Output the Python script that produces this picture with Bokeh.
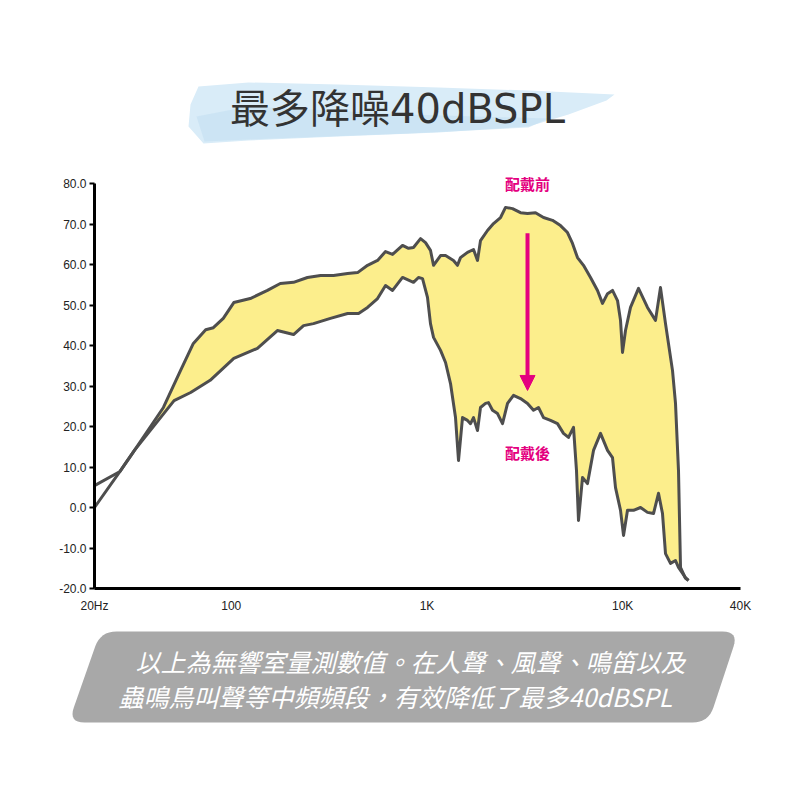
from bokeh.plotting import figure
from bokeh.models import (Range1d, FixedTicker, NumeralTickFormatter, Arrow, NormalHead, Label,
                          LinearScale)
from bokeh.core.properties import value
from bokeh.embed import file_html
from bokeh.resources import INLINE
import math

# ---------------- data ----------------
title_text = "最多降噪40dBSPL"
caption_lines = ["以上為無響室量測數值。在人聲、風聲、鳴笛以及",
                 "蟲鳴鳥叫聲等中頻頻段，有效降低了最多40dBSPL"]
label_before = "配戴前"
label_after = "配戴後"

x_ticks = [20, 100, 1000, 10000, 40000]
x_tick_labels = ["20Hz", "100", "1K", "10K", "40K"]
y_ticks = [-20, -10, 0, 10, 20, 30, 40, 50, 60, 70, 80]

# before wearing (upper curve)
before_freq = [20, 27, 32, 45, 55, 64, 74, 81, 91, 103, 125, 153, 178, 208, 245, 286, 333, 393, 442,
               497, 559, 614, 667, 750, 805, 853, 927, 983, 1042, 1080, 1173, 1244, 1366, 1432, 1483,
               1611, 1729, 1812, 1877, 2038, 2188, 2376, 2520, 2735, 3006, 3264, 3585, 3940, 4378,
               4811, 5224, 5541, 5876, 6306, 6849, 7436, 7888, 8367, 8872, 9410, 9749, 9981, 10338,
               10965, 12048, 13390, 14715, 15605, 16552, 17975, 18618, 19286, 19748, 20940, 21700]
before_db = [5.4, 8.9, 14.1, 24.7, 33.8, 40.5, 43.9, 44.4, 46.7, 50.6, 51.6, 53.6, 55.3, 55.6, 56.8,
             57.3, 57.3, 57.8, 58.0, 59.8, 61.0, 63.2, 62.5, 64.7, 64.0, 64.2, 66.4, 65.4, 63.5, 59.8,
             62.2, 62.2, 61.0, 59.8, 61.7, 63.0, 63.7, 61.0, 65.9, 68.4, 70.1, 71.6, 74.1, 73.8, 72.8,
             72.6, 72.8, 71.6, 70.9, 69.6, 67.9, 65.2, 61.7, 59.8, 56.8, 53.6, 50.4, 52.8, 53.6, 51.1,
             46.2, 38.3, 43.7, 49.4, 54.1, 49.4, 46.2, 54.3, 45.4, 33.8, 25.7, 9.1, -14.8, -17.5, -18.0]

# after wearing (lower curve)
after_freq = [20, 27, 32, 51, 62, 78, 103, 136, 172, 208, 234, 263, 321, 393, 447, 497, 559, 614, 667,
              750, 853, 905, 949, 1006, 1042, 1080, 1173, 1244, 1319, 1399, 1449, 1519, 1611, 1669,
              1729, 1812, 1877, 1991, 2062, 2162, 2293, 2432, 2580, 2768, 3006, 3264, 3502, 3714,
              3940, 4278, 4643, 4984, 5286, 5607, 5808, 5946, 6233, 6610, 7095, 7704, 8367, 8872,
              9192, 9749, 10100, 10584, 11360, 12336, 13390, 14372, 15241, 15977, 16552, 17556,
              18618, 19286, 20940, 21700]
after_db = [0.0, 8.9, 14.1, 26.4, 28.4, 31.4, 36.8, 39.3, 43.7, 42.7, 44.9, 45.4, 46.7, 47.9, 47.9,
            49.4, 51.6, 54.8, 53.6, 56.8, 55.6, 56.8, 56.5, 51.9, 45.4, 42.0, 38.8, 35.8, 30.6, 22.2,
            11.6, 22.2, 21.5, 20.7, 22.2, 19.0, 24.7, 25.7, 25.9, 24.0, 23.2, 20.7, 25.7, 27.7, 26.9,
            25.7, 24.0, 24.7, 22.2, 21.5, 20.7, 18.3, 17.3, 19.8, 9.1, -3.2, 7.4, 5.9, 14.1, 18.3,
            14.1, 12.3, 4.9, -0.7, -6.9, -0.7, -0.7, 0.0, -1.2, -1.5, 3.5, -1.5, -11.4, -13.8,
            -13.1, -14.8, -17.3, -18.0]

arrow_freq = 3264
arrow_from_db = 67.7
arrow_to_db = 28.9
label_before_db = 80.0
label_after_db = 13.6

# ---------------- layout / styles ----------------
FILL = "#FCEE8C"
EDGE = "#4E4E4E"
MAG = "#E4007F"
CJK = "Noto Sans CJK TC"
W = H = 784
PAGE0 = 0                     # canvas origin as observed in the screenshot
F_MIN, F_MAX = 20, 40000
DB_MIN, DB_MAX = -20, 80
CH_L, CH_R, CH_T, CH_B = 94, 740, 183, 588   # chart area on the page (px)

# extend data ranges so that the whole canvas is the frame and the chart sits at CH_*
lpp = (math.log10(F_MAX) - math.log10(F_MIN)) / (CH_R - CH_L)
x_lo = 10 ** (math.log10(F_MIN) - (CH_L - PAGE0) * lpp)
x_hi = 10 ** (math.log10(F_MAX) + (PAGE0 + W - CH_R) * lpp)
dpp = (DB_MAX - DB_MIN) / (CH_B - CH_T)
y_hi = DB_MAX + (CH_T - PAGE0) * dpp
y_lo = DB_MIN - (PAGE0 + H - CH_B) * dpp


def rounded_poly(pts, r, n=8):
    xs, ys = [], []
    m = len(pts)
    for i in range(m):
        px, py = pts[i]
        ax, ay = pts[i - 1]
        bx, by = pts[(i + 1) % m]
        da = ((ax - px) ** 2 + (ay - py) ** 2) ** 0.5
        db = ((bx - px) ** 2 + (by - py) ** 2) ** 0.5
        p0 = (px + (ax - px) / da * r, py + (ay - py) / da * r)
        p2 = (px + (bx - px) / db * r, py + (by - py) / db * r)
        for k in range(n + 1):
            t = k / n
            xs.append((1 - t) ** 2 * p0[0] + 2 * (1 - t) * t * px + t ** 2 * p2[0])
            ys.append((1 - t) ** 2 * p0[1] + 2 * (1 - t) * t * py + t ** 2 * p2[1])
    return xs, ys


p = figure(width=W, height=H, x_axis_type="log", x_range=Range1d(x_lo, x_hi),
           y_range=Range1d(y_lo, y_hi), min_border=0, output_backend="svg",
           toolbar_location=None,
           extra_x_ranges={"px": Range1d(PAGE0, PAGE0 + W)},
           extra_x_scales={"px": LinearScale()},
           extra_y_ranges={"py": Range1d(PAGE0 + H, PAGE0)})
p.grid.visible = False
p.outline_line_color = None
p.background_fill_color = "white"

# axes drawn at fixed locations inside the canvas
p.xaxis.fixed_location = DB_MIN
p.xaxis.bounds = (F_MIN, F_MAX)
p.yaxis.fixed_location = F_MIN
p.yaxis.bounds = (DB_MIN, DB_MAX)
p.xaxis.ticker = FixedTicker(ticks=x_ticks)
p.xaxis.major_label_overrides = dict(zip(x_ticks, x_tick_labels))
p.xaxis.major_tick_line_color = None
p.xaxis.minor_tick_line_color = None
p.xaxis.major_label_standoff = 4
p.yaxis.ticker = FixedTicker(ticks=y_ticks)
p.yaxis.formatter = NumeralTickFormatter(format="0.0")
p.yaxis.major_tick_out = 5
p.yaxis.major_tick_in = 0
p.yaxis.major_tick_line_width = 2
p.yaxis.minor_tick_line_color = None
p.yaxis.major_label_standoff = 3
for ax in (p.xaxis, p.yaxis):
    ax.axis_line_width = 3
    ax.axis_line_color = "black"
    ax.major_label_text_font = "Liberation Sans"
    ax.major_label_text_font_size = "12px"
    ax.major_label_text_color = "#222222"

# ---- title with brush stroke (page px coords) ----
brush_outer = [(190, 104), (198, 86), (248, 82), (338, 84), (438, 87), (528, 90), (614, 94),
               (606, 100), (568, 114), (528, 126), (438, 132), (338, 136), (248, 140), (203, 143),
               (188, 126)]
brush_inner = [(196, 116), (248, 106), (408, 114), (548, 118), (528, 127), (408, 133), (248, 139),
               (204, 141)]
p.patch([q[0] for q in brush_outer], [q[1] for q in brush_outer], fill_color="#D9ECF8",
        line_color=None, x_range_name="px", y_range_name="py")
p.patch([q[0] for q in brush_inner], [q[1] for q in brush_inner], fill_color="#C3DFF2",
        fill_alpha=0.6, line_color=None, x_range_name="px", y_range_name="py")
p.text(x=[397], y=[108], text=[title_text], text_font=value("DejaVu Sans, " + CJK),
       text_font_size="40px", text_align="center", text_baseline="middle", text_color="#333333",
       x_range_name="px", y_range_name="py")

# ---- chart ----
band_x = before_freq[2:] + after_freq[2:][::-1]
band_y = before_db[2:] + after_db[2:][::-1]
p.patch(band_x, band_y, fill_color=FILL, line_color=None)
p.line(before_freq, before_db, line_color=EDGE, line_width=3, line_join="round")
p.line(after_freq, after_db, line_color=EDGE, line_width=3, line_join="round")

p.add_layout(Arrow(end=NormalHead(size=15, fill_color=MAG, line_color=MAG),
                   x_start=arrow_freq, y_start=arrow_from_db, x_end=arrow_freq, y_end=arrow_to_db,
                   line_color=MAG, line_width=4))
for txt, yv in ((label_before, label_before_db), (label_after, label_after_db)):
    p.add_layout(Label(x=arrow_freq, y=yv, text=txt, text_align="center", text_baseline="middle",
                       text_font=CJK, text_font_style="bold", text_font_size="15px",
                       text_color=MAG))

# ---- caption box (page px coords) ----
bx, by = rounded_poly([(100, 631), (738, 631), (708, 722), (68, 722)], 16)
p.patch(bx, by, fill_color="#A8A8A8", line_color=None, x_range_name="px", y_range_name="py")
p.text(x=[135, 118], y=[660, 695], text=caption_lines, text_font=value(CJK),
       text_font_style="italic", text_font_size="25px", text_align="left",
       text_baseline="middle", text_color="white", x_range_name="px", y_range_name="py")

open("out.html", "w").write(file_html(p, INLINE))
